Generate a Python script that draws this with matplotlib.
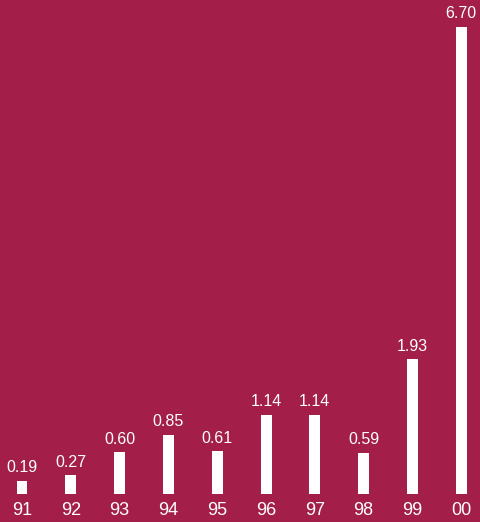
import numpy as np
import matplotlib
matplotlib.use("Agg")
import matplotlib.pyplot as plt

years = ["91", "92", "93", "94", "95", "96", "97", "98", "99", "00"]
values = [0.19, 0.27, 0.60, 0.85, 0.61, 1.14, 1.14, 0.59, 1.93, 6.70]

bg = "#A31F4A"
plt.rcParams['font.family'] = ['Liberation Sans', 'DejaVu Sans']

fig = plt.figure(figsize=(4.8, 5.22), dpi=100, facecolor=bg)
ax = fig.add_axes([0, 0, 1, 1])
ax.set_facecolor(bg)

x = np.arange(len(years))
ax.bar(x, values, width=0.225, color="white")

# value labels above each bar
for xi, v in zip(x, values):
    ax.text(xi, v + 0.08, "%.2f" % v, ha="center", va="bottom",
            color="white", fontsize=11.5)

# year labels under the baseline
for xi, lab in zip(x, years):
    ax.text(xi, -0.23, lab, ha="center", va="center", color="white", fontsize=13)

ax.set_xlim(-0.451, 9.385)
ax.set_ylim(-0.402, 7.088)
ax.axis("off")

plt.savefig("out.png", dpi=100, facecolor=bg)
